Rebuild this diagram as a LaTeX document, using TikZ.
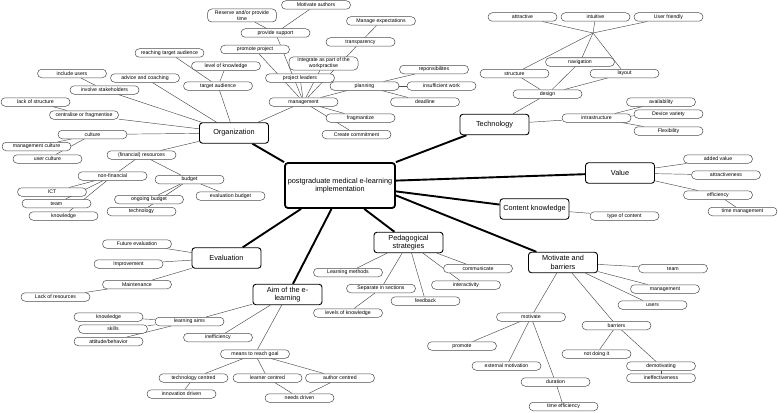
\documentclass[tikz,border=0pt]{standalone}
\usepackage{fontspec}
\setmainfont{Liberation Sans}
\usetikzlibrary{backgrounds}
\begin{document}
\begin{tikzpicture}[x=1pt,y=-1pt,
  pill/.style={draw=black!70, line width=0.5pt, fill=white, rounded corners=4.2pt,
    minimum width=69pt, minimum height=8.5pt, inner sep=0.5pt,
    font=\fontsize{5.2}{5.8}\selectfont, align=center},
  pilltwo/.style={pill, minimum height=13pt},
  box/.style={draw=black, line width=0.9pt, fill=white, rounded corners=3pt,
    minimum width=69pt, minimum height=20.5pt, inner sep=1pt,
    font=\fontsize{7.3}{8.6}\selectfont, align=center},
  conn/.style={draw=black!70, line width=0.45pt},
  mainconn/.style={draw=black, line width=1.9pt}]
\useasboundingbox (0,0) rectangle (778,412);

% centre
\node[box, line width=1.8pt, minimum width=110pt, minimum height=45pt] (c) at (340,185.5)
  {postgraduate medical e-learning\\implementation};

% Organization
\node[box] (org) at (234,133) {Organization};
\node[pilltwo] (rtime) at (242,15.5) {Reserve and/or provide\\time};
\node[pill] (mauth) at (316,5) {Motivate authors};
\node[pill] (psupp) at (275.5,33) {provide support};
\node[pill] (manexp) at (381,21) {Manage expectations};
\node[pill] (transp) at (360.5,42) {transparency};
\node[pill] (promproj) at (255,49.5) {promote project};
\node[pilltwo] (integ) at (323.5,63.5) {Integrate as part of the\\workpractise};
\node[pill] (respons) at (434,69.5) {reponsibilites};
\node[pill] (insuff) at (441.5,86) {insufficient work};
\node[pill] (deadl) at (425,102) {deadline};
\node[pill] (plan) at (364.5,86) {planning};
\node[pill] (pleaders) at (300,78) {project leaders};
\node[pill] (lok) at (226,66) {level of knowledge};
\node[pill] (reach) at (169.5,53) {reaching target audience};
\node[pill] (taud) at (218,86) {target audience};
\node[pill] (mgmt) at (303.5,102) {management};
\node[pill] (frag) at (360.5,118) {fragmantize};
\node[pill] (commit) at (356.5,134.5) {Create commitment};
\node[pill] (incl) at (72,73.5) {include users};
\node[pill] (advice) at (145,78) {advice and coaching};
\node[pill] (involve) at (104.5,90) {involve stakeholders};
\node[pill] (lackstr) at (35.5,102) {lack of structure};
\node[pill] (central) at (84,115) {centralise or fragmentise};
\node[pill] (cult) at (92.5,134.5) {culture};
\node[pill] (mcult) at (36.5,146.5) {management culture};
\node[pill] (ucult) at (47.5,159) {user culture};
\node[pill] (finres) at (141.5,155) {(financial) resources};
\node[pill] (nonfin) at (112.5,176) {non-financial};
\node[pill] (budget) at (189.5,179.5) {budget};
\node[pill] (ict) at (52,192) {ICT};
\node[pill] (team) at (56.5,203.5) {team};
\node[pill] (know1) at (63.5,216) {knowledge};
\node[pill] (ongo) at (149,199.5) {ongoing budget};
\node[pill] (techn) at (141.5,211.5) {technology};
\node[pill] (evalb) at (230.5,196) {evaluation budget};

% Technology
\node[box] (tech) at (494.5,124.5) {Technology};
\node[pill] (attr) at (522.5,17) {attractive};
\node[pill] (intu) at (595.5,17) {intuitive};
\node[pill] (uf) at (668.5,17) {User friendly};
\coordinate (J) at (593,33);
\node[pill] (nav) at (580,62) {navigation};
\node[pill] (struct) at (514.5,73.5) {structure};
\node[pill] (layout) at (624.5,73.5) {layout};
\node[pill] (design) at (547.5,94) {design};
\node[pill] (avail) at (661,102) {availability};
\node[pill] (devvar) at (668.5,114) {Device variety};
\node[pill] (infra) at (596.5,118) {intrastructure};
\node[pill] (flex) at (668.5,131) {Flexibility};

% Value
\node[box] (value) at (620,173) {Value};
\node[pill] (addv) at (718,159) {added value};
\node[pill] (attrness) at (726,175) {attractiveness};
\node[pill] (effic) at (718,195) {efficiency};
\node[pill] (timemg) at (742.5,211.5) {time management};

% Content knowledge
\node[box] (content) at (534.5,209) {Content knowledge};
\node[pill] (typec) at (624.5,216) {type of content};

% Pedagogical strategies
\node[box] (ped) at (408.5,242.5) {Pedagogical\\strategies};
\node[pill] (lmeth) at (348,272.5) {Learning methods};
\node[pill] (commun) at (478,268.5) {communicate};
\node[pill] (interact) at (466,285) {interactivity};
\node[pill] (separ) at (381,288.5) {Separate in sections};
\node[pill] (feedb) at (425.5,301) {feedback};
\node[pill] (levk) at (348,313) {levels of knowledge};

% Evaluation
\node[box] (eval) at (226.5,258) {Evaluation};
\node[pill] (futev) at (137,244) {Future evaluation};
\node[pill] (improv) at (128.5,264) {Improvement};
\node[pill] (maint) at (137,284.5) {Maintenance};
\node[pill] (lackres) at (55.5,297) {Lack of resources};

% Aim
\node[box] (aim) at (287.5,294.5) {Aim of the e-\\learning};
\node[pill] (know2) at (108.5,317) {knowledge};
\node[pill] (skills) at (113,329) {skills};
\node[pill] (attit) at (108.5,341.5) {attitude/behavior};
\node[pill] (laims) at (189.5,321.5) {learning aims};
\node[pill] (ineff) at (218,337.5) {inefficiency};
\node[pill] (means) at (255,354) {means to reach goal};
\node[pill] (techc) at (193.5,378) {technology centred};
\node[pill] (innov) at (181.5,394) {innovation driven};
\node[pill] (learnc) at (267.5,378) {learner centred};
\node[pill] (authc) at (340,378) {author centred};
\node[pill] (needs) at (299.5,398) {needs driven};

% Motivate and barriers
\node[box] (mot) at (563,262.5) {Motivate and\\barriers};
\node[pill] (team2) at (673,268.5) {team};
\node[pill] (mgmt2) at (665,289) {management};
\node[pill] (users) at (652.5,305) {users};
\node[pill] (motiv) at (531,317) {motivate};
\node[pill] (barr) at (616.5,325.5) {barriers};
\node[pill] (prom) at (462,346) {promote};
\node[pill] (extm) at (506.5,366) {external motivation};
\node[pill] (notdo) at (596.5,354) {not doing it};
\node[pill] (demot) at (661,366) {demotivating};
\node[pill] (ineffv) at (661,378) {ineffectiveness};
\node[pill] (durat) at (555.5,382) {duration};
\node[pill] (timeff) at (563.5,406.5) {time efficiency};

\begin{scope}[on background layer]
\fill[white] (0,0) rectangle (778,412);
% main branches
\draw[mainconn] (c.north west) -- (org);
\draw[mainconn] (c.north east) -- (tech);
\draw[mainconn] (c.5) -- (value);
\draw[mainconn] (c.-6) -- (content);
\draw[mainconn] (c.-10) -- (mot);
\draw[mainconn] (c.-44) -- (ped);
\draw[mainconn] (c.-110) -- (aim);
\draw[mainconn] (c.-149) -- (eval);

% Organization
\draw[conn] (org) -- (mgmt);
\draw[conn] (org) -- (taud);
\draw[conn] (org) -- (advice);
\draw[conn] (org) -- (involve);
\draw[conn] (org) -- (central);
\draw[conn] (org) -- (cult);
\draw[conn] (org) -- (finres);
\draw[conn] (taud) -- (lok);
\draw[conn] (taud) -- (reach);
\draw[conn] (involve) -- (incl);
\draw[conn] (central) -- (lackstr);
\draw[conn] (cult) -- (mcult);
\draw[conn] (cult) -- (ucult);
\draw[conn] (finres) -- (nonfin);
\draw[conn] (finres) -- (budget);
\draw[conn] (nonfin) -- (ict);
\draw[conn] (nonfin) -- (team);
\draw[conn] (nonfin) -- (know1);
\draw[conn] (budget) -- (ongo);
\draw[conn] (budget) -- (techn);
\draw[conn] (budget) -- (evalb);
\draw[conn] (mgmt) -- (pleaders);
\draw[conn] (mgmt) -- (psupp);
\draw[conn] (mgmt) -- (promproj);
\draw[conn] (mgmt) -- (integ);
\draw[conn] (mgmt) -- (transp);
\draw[conn] (mgmt) -- (plan);
\draw[conn] (mgmt) -- (frag);
\draw[conn] (mgmt) -- (commit);
\draw[conn] (psupp) -- (rtime);
\draw[conn] (psupp) -- (mauth);
\draw[conn] (transp) -- (manexp);
\draw[conn] (plan) -- (respons);
\draw[conn] (plan) -- (insuff);
\draw[conn] (plan) -- (deadl);

% Technology
\draw[conn] (attr) -- (J);
\draw[conn] (intu) -- (J);
\draw[conn] (uf) -- (J);
\draw[conn] (J) -- (struct);
\draw[conn] (J) -- (nav);
\draw[conn] (J) -- (layout);
\draw[conn] (nav) -- (design);
\draw[conn] (struct) -- (design);
\draw[conn] (layout) -- (design);
\draw[conn] (design) -- (tech);
\draw[conn] (tech) -- (infra);
\draw[conn] (infra) -- (avail);
\draw[conn] (infra) -- (devvar);
\draw[conn] (infra) -- (flex);

% Value, content
\draw[conn] (value) -- (addv);
\draw[conn] (value) -- (attrness);
\draw[conn] (value) -- (effic);
\draw[conn] (effic) -- (timemg);
\draw[conn] (content) -- (typec);

% Pedagogical
\draw[conn] (ped) -- (lmeth);
\draw[conn] (ped) -- (separ);
\draw[conn] (ped) -- (feedb);
\draw[conn] (ped) -- (interact);
\draw[conn] (ped) -- (commun);
\draw[conn] (separ) -- (levk);

% Evaluation
\draw[conn] (eval) -- (futev);
\draw[conn] (eval) -- (improv);
\draw[conn] (eval) -- (maint);
\draw[conn] (maint) -- (lackres);

% Aim
\draw[conn] (aim) -- (laims);
\draw[conn] (aim) -- (ineff);
\draw[conn] (aim) -- (means);
\draw[conn] (laims) -- (know2);
\draw[conn] (laims) -- (skills);
\draw[conn] (laims) -- (attit);
\draw[conn] (means) -- (techc);
\draw[conn] (means) -- (learnc);
\draw[conn] (means) -- (authc);
\draw[conn] (techc) -- (innov);
\draw[conn] (learnc) -- (needs);
\draw[conn] (authc) -- (needs);

% Motivate and barriers
\draw[conn] (mot) -- (team2);
\draw[conn] (mot) -- (mgmt2);
\draw[conn] (mot) -- (users);
\draw[conn] (mot) -- (motiv);
\draw[conn] (mot) -- (barr);
\draw[conn] (motiv) -- (prom);
\draw[conn] (motiv) -- (extm);
\draw[conn] (motiv) -- (durat);
\draw[conn] (durat) -- (timeff);
\draw[conn] (barr) -- (notdo);
\draw[conn] (barr) -- (demot);
\draw[conn] (demot) -- (ineffv);
\end{scope}
\end{tikzpicture}
\end{document}
